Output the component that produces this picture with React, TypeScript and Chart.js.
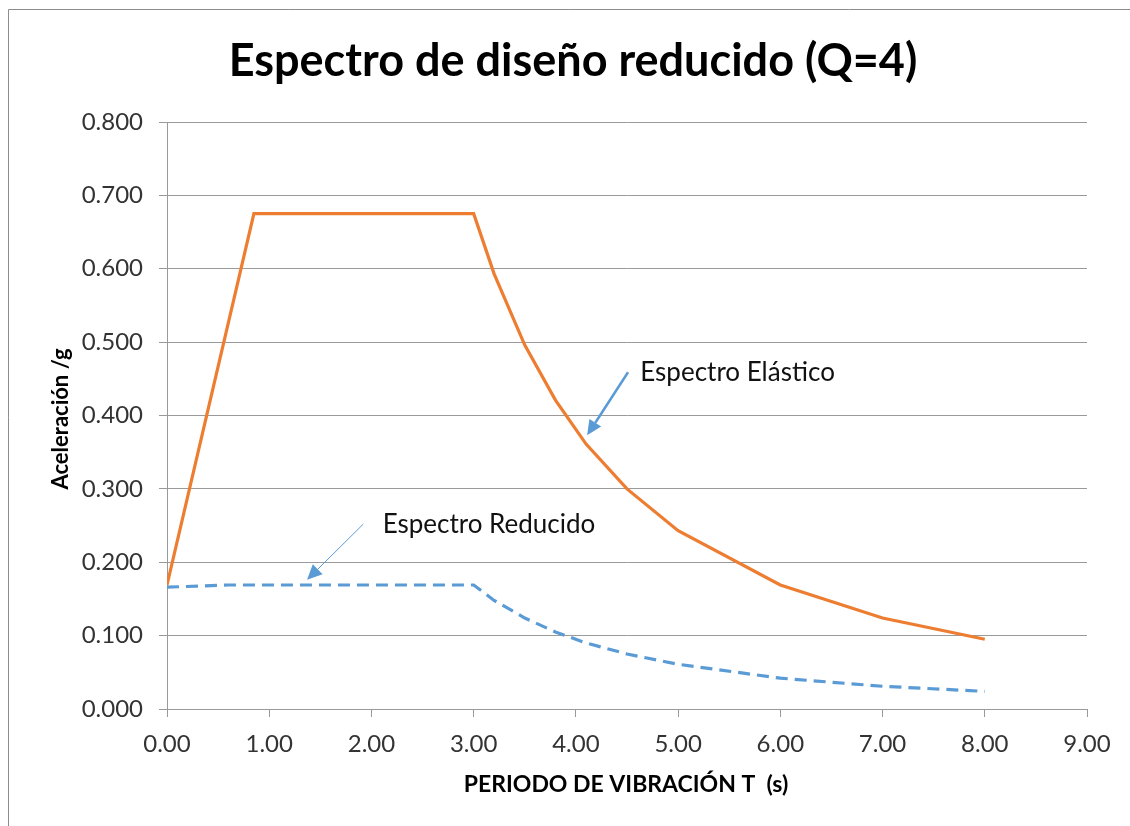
import React, { useEffect, useRef } from "react";
import { Chart, registerables } from "chart.js";

Chart.register(...registerables);

const elasticT = [0, 0.85, 3.0, 3.2, 3.5, 3.8, 4.1, 4.5, 5, 6, 7, 8];
const elasticA = [0.169, 0.675, 0.675, 0.593, 0.496, 0.421, 0.361, 0.3, 0.243, 0.169, 0.124, 0.095];
const reducedT = [0, 0.6, 0.85, 3.0, 3.2, 3.5, 3.8, 4.1, 4.5, 5, 6, 7, 8];
const reducedA = [0.166, 0.169, 0.169, 0.169, 0.148, 0.124, 0.105, 0.09, 0.075, 0.061, 0.042, 0.031, 0.024];

const titleText = "Espectro de diseño reducido (Q=4)";
const xTitle = "PERIODO DE VIBRACIÓN T  (s)";
const yTitle = "Aceleración /g";

const annoLabels = ["Espectro Elástico", "Espectro Reducido"];
const annoTextX = [4.63, 2.11];
const annoTextY = [0.459, 0.251];
const annoFromX = [4.51, 1.92];
const annoFromY = [0.459, 0.252];
const annoToX = [4.11, 1.37];
const annoToY = [0.373, 0.176];
const annoWidth = [2.5, 1];

const W = 1130;
const H = 826;
const PLOT_LEFT = 167;
const PLOT_BOTTOM = 709;

const overlay = {
  id: "overlay",
  afterDraw(chart: any) {
    const ctx = chart.ctx;
    const xs = chart.scales.x;
    const ys = chart.scales.y;
    ctx.save();
    // frame
    ctx.strokeStyle = "#8c8c8c";
    ctx.lineWidth = 1;
    ctx.beginPath();
    ctx.moveTo(8.5, H);
    ctx.lineTo(8.5, 9.5);
    ctx.lineTo(W, 9.5);
    ctx.stroke();
    // title
    ctx.fillStyle = "#000";
    ctx.textAlign = "center";
    ctx.textBaseline = "middle";
    ctx.font = "bold 45px Lato";
    ctx.fillText(titleText, 573, 61);
    // x title
    ctx.font = "bold 23px Lato";
    ctx.fillText(xTitle, 626, 785);
    // y title
    ctx.save();
    ctx.translate(61, 419);
    ctx.rotate(-Math.PI / 2);
    ctx.font = "bold 22px Lato";
    ctx.fillText(yTitle, 0, 0);
    ctx.restore();
    // annotations
    for (let i = 0; i < annoLabels.length; i++) {
      ctx.font = "26px Lato";
      ctx.textAlign = "left";
      ctx.fillStyle = "#111";
      ctx.fillText(annoLabels[i], xs.getPixelForValue(annoTextX[i]), ys.getPixelForValue(annoTextY[i]));
      const x1 = xs.getPixelForValue(annoFromX[i]);
      const y1 = ys.getPixelForValue(annoFromY[i]);
      const x2 = xs.getPixelForValue(annoToX[i]);
      const y2 = ys.getPixelForValue(annoToY[i]);
      const ang = Math.atan2(y2 - y1, x2 - x1);
      const hl = 15;
      const hw = 7;
      const bx = x2 - hl * Math.cos(ang);
      const by = y2 - hl * Math.sin(ang);
      ctx.strokeStyle = "#5b9bd5";
      ctx.fillStyle = "#5b9bd5";
      ctx.lineWidth = annoWidth[i];
      ctx.beginPath();
      ctx.moveTo(x1, y1);
      ctx.lineTo(bx, by);
      ctx.stroke();
      ctx.beginPath();
      ctx.moveTo(x2, y2);
      ctx.lineTo(bx + hw * Math.sin(ang), by - hw * Math.cos(ang));
      ctx.lineTo(bx - hw * Math.sin(ang), by + hw * Math.cos(ang));
      ctx.closePath();
      ctx.fill();
    }
    ctx.restore();
  },
};

export default function App() {
  const ref = useRef<HTMLCanvasElement>(null);
  useEffect(() => {
    document.body.style.margin = "0";
    const chart = new Chart(ref.current!, {
      type: "scatter",
      data: {
        datasets: [
          {
            label: "Espectro Elástico",
            data: elasticT.map((t, i) => ({ x: t, y: elasticA[i] })),
            showLine: true,
            borderColor: "#ed7d31",
            borderWidth: 3.2,
            pointRadius: 0,
            tension: 0,
          },
          {
            label: "Espectro Reducido",
            data: reducedT.map((t, i) => ({ x: t, y: reducedA[i] })),
            showLine: true,
            borderColor: "#5b9bd5",
            borderWidth: 3.2,
            borderDash: [12, 7],
            pointRadius: 0,
            tension: 0,
          },
        ],
      },
      options: {
        animation: false,
        responsive: true,
        maintainAspectRatio: false,
        layout: { padding: { top: 122, right: 43, left: 0, bottom: 0 } },
        plugins: { legend: { display: false }, title: { display: false }, tooltip: { enabled: false } },
        scales: {
          x: {
            type: "linear",
            min: 0,
            max: 9,
            afterFit: (s: any) => {
              s.height = H - PLOT_BOTTOM;
            },
            ticks: {
              stepSize: 1,
              padding: 13,
              color: "#333",
              font: { family: "Lato", size: 24 },
              callback: (v: any) => Number(v).toFixed(2),
            },
            grid: { drawOnChartArea: false, drawTicks: true, tickLength: 8, color: "#9a9a9a" },
            border: { color: "#9a9a9a" },
          },
          y: {
            min: 0,
            max: 0.8,
            afterFit: (s: any) => {
              s.width = PLOT_LEFT;
            },
            ticks: {
              stepSize: 0.1,
              padding: 16,
              color: "#333",
              font: { family: "Lato", size: 24 },
              callback: (v: any) => Number(v).toFixed(3),
            },
            grid: { color: "#9a9a9a", tickLength: 8 },
            border: { color: "#9a9a9a" },
          },
        },
      },
      plugins: [overlay],
    });
    return () => chart.destroy();
  }, []);
  return (
    <div style={{ position: "fixed", left: 0, top: 0, width: W, height: H, background: "#fff" }}>
      <canvas ref={ref} />
    </div>
  );
}
